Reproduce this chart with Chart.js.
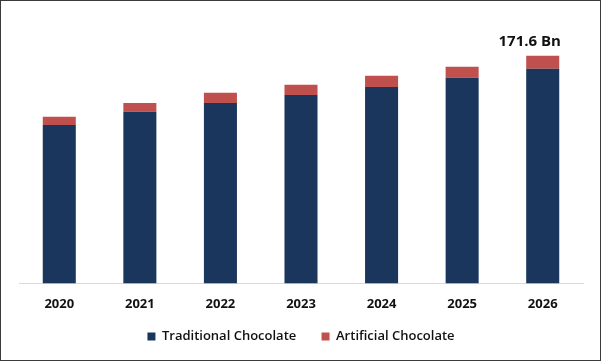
<!DOCTYPE html>
<html>
<head>
<meta charset="utf-8">
<script src="https://cdn.jsdelivr.net/npm/chart.js@4/dist/chart.umd.min.js"></script>
<style>
    html, body { margin: 0; padding: 0; background: #fff; }
    #wrap { width: 601px; height: 361px; box-sizing: border-box; border: 1px solid #3a3a3a; position: relative; }
    #wrap canvas { display: block; }
</style>
</head>
<body>
<div id="wrap"><canvas id="bar-chartcanvas"></canvas></div>
<script>
// chart data
var years = ["2020", "2021", "2022", "2023", "2024", "2025", "2026"];
var traditional = [119.4, 129.3, 136, 142, 148, 155, 161.8];
var artificial = [6.1, 6.7, 7.6, 7.7, 8.5, 8.3, 9.8];
var seriesNames = ["Traditional Chocolate", "Artificial Chocolate"];
var lastLabel = "171.6 Bn";

var ctx = document.getElementById("bar-chartcanvas");

// label above last bar
var topLabel = {
    id: "topLabel",
    afterDatasetsDraw: function (chart) {
        var meta = chart.getDatasetMeta(1);
        var bar = meta.data[meta.data.length - 1];
        var c = chart.ctx;
        c.save();
        c.font = "bold 15px 'Open Sans'";
        c.fillStyle = "#111";
        c.textAlign = "center";
        c.textBaseline = "middle";
        c.fillText(lastLabel, bar.x - 13, bar.y - 14);
        c.restore();
    }
};

var chart = new Chart(ctx, {
    type: "bar",
    data: {
        labels: years,
        datasets: [
            {
                label: seriesNames[0],
                data: traditional,
                backgroundColor: "#1a365d"
            },
            {
                label: seriesNames[1],
                data: artificial,
                backgroundColor: "#c0504d"
            }
        ]
    },
    options: {
        responsive: true,
        maintainAspectRatio: false,
        animation: false,
        datasets: {
            bar: { barPercentage: 0.41, categoryPercentage: 1 }
        },
        layout: { padding: { left: 18, right: 17, top: 17, bottom: 7 } },
        plugins: {
            tooltip: { enabled: false },
            legend: {
                display: true,
                position: "bottom",
                labels: {
                    boxWidth: 8,
                    boxHeight: 8,
                    padding: 5,
                    color: "#111",
                    font: { family: "'Open Sans'", size: 13, weight: "600" },
                    // a bit more room between the two items
                    generateLabels: function (chart) {
                        var items = Chart.defaults.plugins.legend.labels.generateLabels(chart);
                        items[0].text = items[0].text + "      ";
                        return items;
                    }
                }
            }
        },
        scales: {
            x: {
                stacked: true,
                grid: { display: false, drawTicks: false },
                border: { display: true, color: "#d9d9d9", width: 1 },
                ticks: {
                    padding: 13,
                    color: "#111",
                    font: { family: "'Open Sans'", size: 13, weight: "bold" }
                }
            },
            y: {
                stacked: true,
                display: false,
                min: 0,
                max: 200
            }
        }
    },
    plugins: [topLabel]
});
</script>
</body>
</html>
